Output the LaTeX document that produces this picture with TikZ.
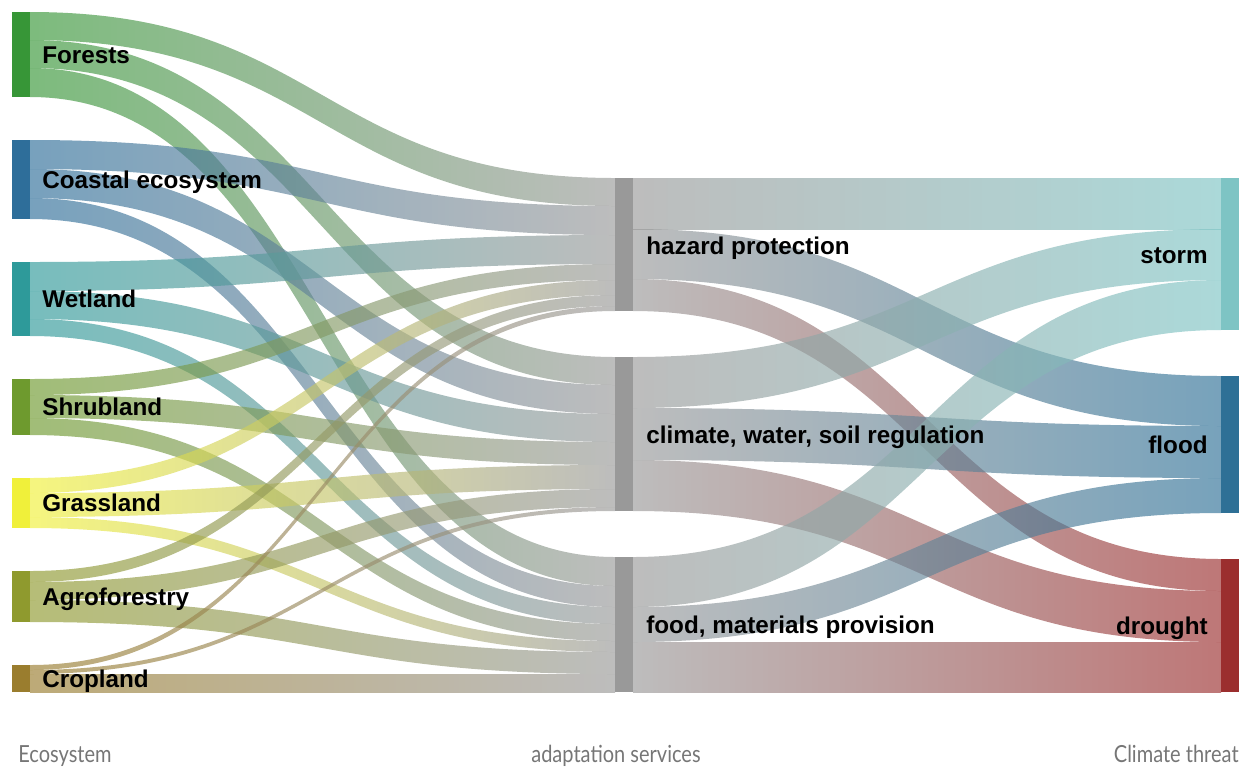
\documentclass[tikz,border=0pt]{standalone}
\usepackage{fontspec}
\setmainfont{Liberation Sans}
\newfontfamily\axisfont[FakeStretch=0.85]{Lato}

\definecolor{forest}{RGB}{55,150,55}
\definecolor{coast}{RGB}{46,110,154}
\definecolor{wet}{RGB}{46,154,154}
\definecolor{shrub}{RGB}{110,154,46}
\definecolor{grass}{RGB}{240,240,58}
\definecolor{agro}{RGB}{143,154,46}
\definecolor{crop}{RGB}{154,125,46}
\definecolor{mid}{RGB}{153,153,153}
\definecolor{storm}{RGB}{126,196,196}
\definecolor{flood}{RGB}{46,112,150}
\definecolor{drought}{RGB}{155,46,46}
\definecolor{axisgray}{RGB}{118,118,118}

\begin{document}
\begin{tikzpicture}[x=0.02cm,y=-0.02cm,
    llink/.style={right color=mid,fill opacity=.65},
    rlink/.style={left color=mid,fill opacity=.65},
    lab/.style={font=\fontsize{13.8}{16}\selectfont\bfseries,inner sep=0pt,text height=9.9pt,text depth=0pt},
    axis/.style={font=\axisfont\fontsize{13.4}{16}\selectfont,text=axisgray,inner sep=0pt,text height=9.6pt,text depth=0pt}]
  \useasboundingbox (0,0) rectangle (1249,769);

  % ecosystem -> service (source top / target top / width / colour)
  \foreach \a/\b/\w/\c in {12/178/28/forest, 40/357/28/forest, 68/557/29/forest,
      140/206/29/coast, 169/385/29/coast, 198/586/21/coast,
      262/235/29/wet, 291/414/28/wet, 319/607/17/wet,
      379/264/16/shrub, 395/442/23/shrub, 418/624/17/shrub,
      478/280/15/grass, 493/465/24/grass, 517/641/11/grass,
      571/295/11/agro, 582/489/18/agro, 600/652/22/agro,
      665/306/5/crop, 670/507/4/crop, 674/674/18/crop}
    \shade[llink,left color=\c] (30,\a) .. controls (322,\a) and (322,\b) .. (615,\b)
      -- (615,\b+\w) .. controls (322,\b+\w) and (322,\a+\w) .. (30,\a+\w) -- cycle;

  % service -> threat
  \foreach \a/\b/\w/\c in {178/178/51/storm, 229/376/50/flood, 279/559/32/drought,
      357/229/51/storm, 408/426/52/flood, 460/591/51/drought,
      557/280/50/storm, 607/478/35/flood, 642/642/50/drought}
    \shade[rlink,right color=\c] (633,\a) .. controls (927,\a) and (927,\b) .. (1221,\b)
      -- (1221,\b+\w) .. controls (927,\b+\w) and (927,\a+\w) .. (633,\a+\w) -- cycle;

  % bars
  \foreach \y/\h/\c in {12/85/forest, 140/79/coast, 262/74/wet, 379/56/shrub,
      478/50/grass, 571/51/agro, 665/27/crop}
    \fill[\c] (12,\y) rectangle (30,\y+\h);
  \foreach \y/\h in {178/133, 357/154, 557/135}
    \fill[mid] (615,\y) rectangle (633,\y+\h);
  \foreach \y/\h/\c in {178/152/storm, 376/137/flood, 559/133/drought}
    \fill[\c] (1221,\y) rectangle (1239,\y+\h);

  \node[lab,anchor=west] (forests) at (42,54.5) {Forests};
  \node[lab,anchor=west] (coastal) at (42,179.5) {Coastal ecosystem};
  \node[lab,anchor=west] (wetland) at (42,299) {Wetland};
  \node[lab,anchor=west] (shrubland) at (42,407) {Shrubland};
  \node[lab,anchor=west] (grassland) at (42,503) {Grassland};
  \node[lab,anchor=west] (agroforestry) at (42,596.5) {Agroforestry};
  \node[lab,anchor=west] (cropland) at (42,678.5) {Cropland};

  \node[lab,anchor=west] (hazard) at (646,246) {hazard protection};
  \node[lab,anchor=west] (climate) at (646,435) {climate, water, soil regulation};
  \node[lab,anchor=west] (food) at (646,624.5) {food, materials provision};

  \node[lab,anchor=east] (storm) at (1208,255) {storm};
  \node[lab,anchor=east] (flood) at (1208,444.5) {flood};
  \node[lab,anchor=east] (drought) at (1208,625.5) {drought};

  \node[axis,anchor=west] (ecosystem) at (18,754) {Ecosystem};
  \node[axis] (services) at (616,754) {adaptation services};
  \node[axis,anchor=east] (threat) at (1239,754) {Climate threat};
\end{tikzpicture}
\end{document}
